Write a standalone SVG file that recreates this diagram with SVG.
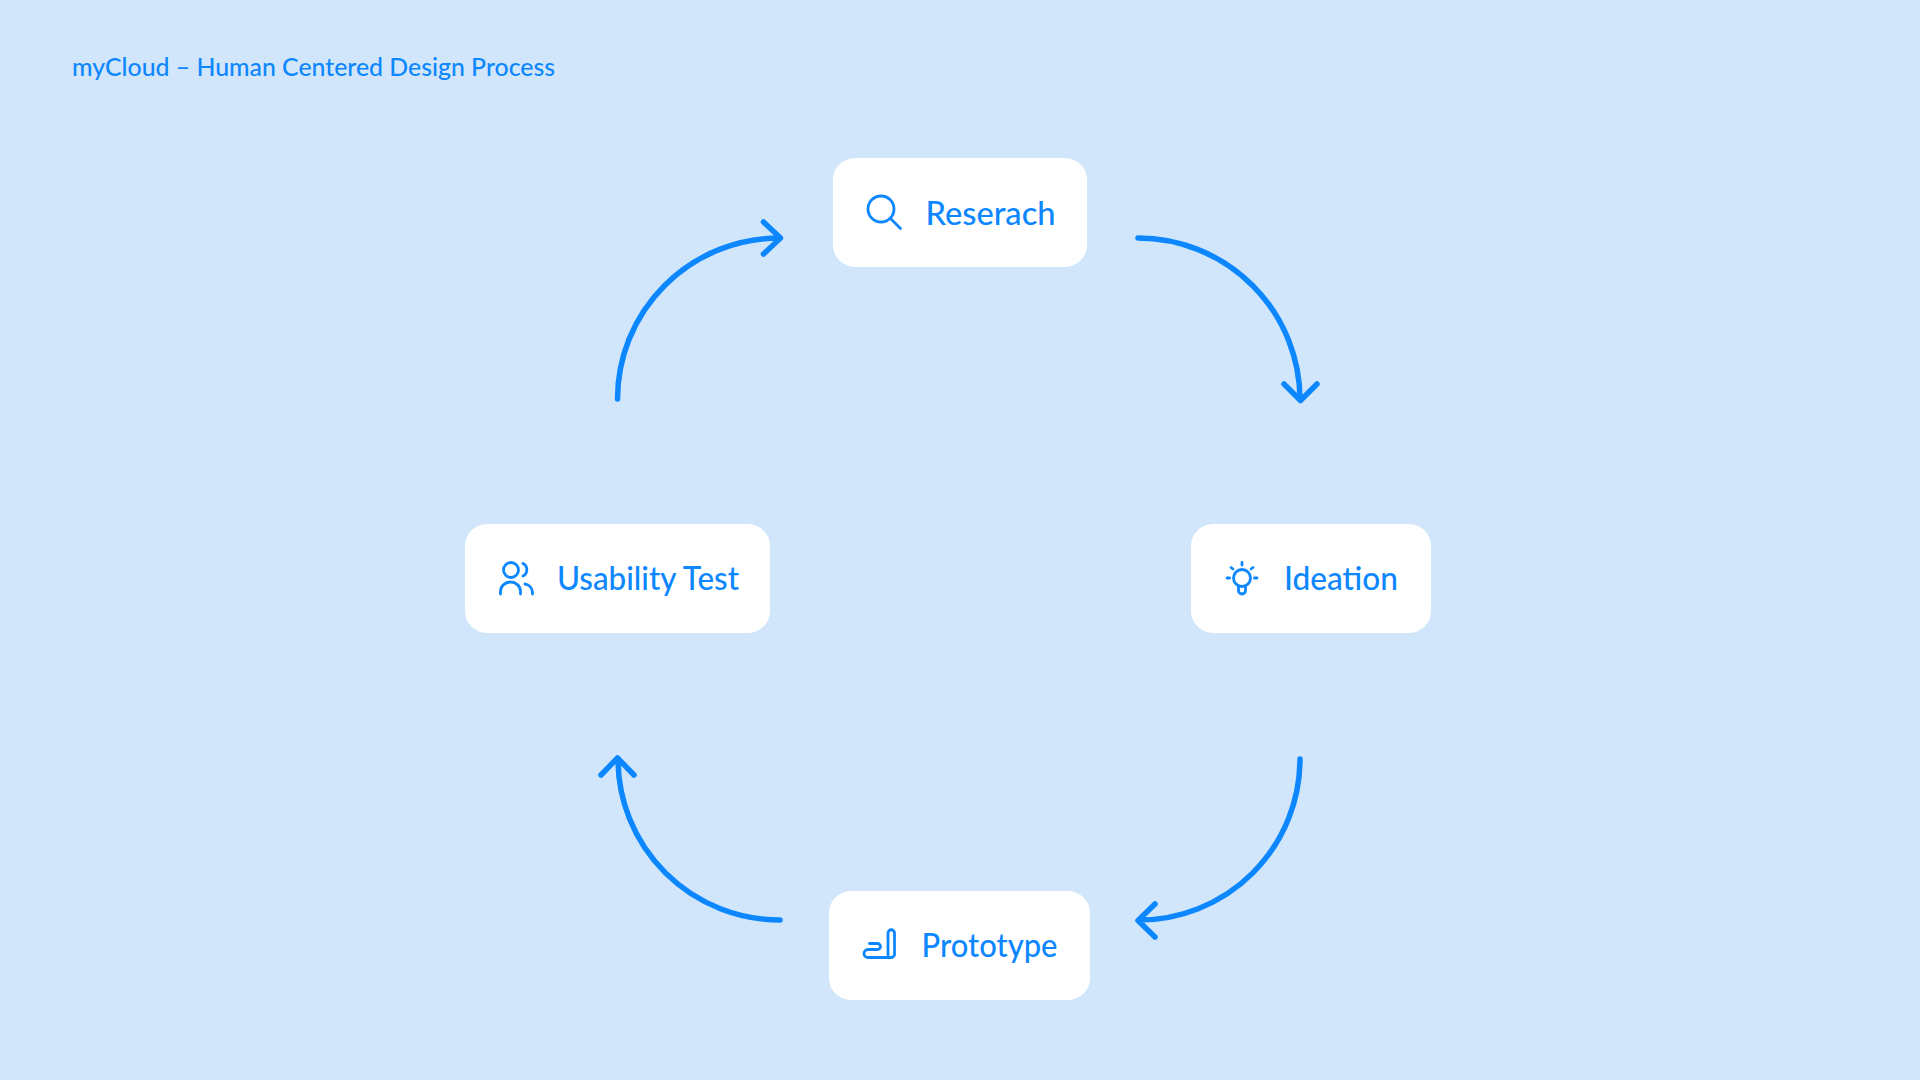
<svg xmlns="http://www.w3.org/2000/svg" width="1920" height="1080" viewBox="0 0 1920 1080">
<style>
.box{fill:#fff}
.t{font-family:"Lato","Noto Sans",sans-serif;fill:#0d87ff;font-size:32px;font-weight:500}
.i{fill:none;stroke:#0d87ff;stroke-width:2.8;stroke-linecap:round;stroke-linejoin:round}
.c{fill:none;stroke:#0d87ff;stroke-width:5.500;stroke-linecap:round;stroke-linejoin:round}
</style>
<rect width="1920" height="1080" fill="#d1e6fa"/>
<text id="title" x="72" y="75.500" class="t" style="font-size:25px" textLength="483" lengthAdjust="spacingAndGlyphs">myCloud – Human Centered Design Process</text>
<g id="connectors">
<path class="c" d="M1138 238A162 162 0 0 1 1300 400M1284 384L1300.500 400.500L1317 384"/>
<path class="c" d="M1300 759A161 161 0 0 1 1139 920M1155 904L1138 920.500L1155 937"/>
<path class="c" d="M780 920A162 161 0 0 1 618 759M601 775L617.500 758L634 775"/>
<path class="c" d="M617.500 399A162 161 0 0 1 780 238M763.500 222L780.500 238L763.500 254"/>
</g>
<g id="research"><rect class="box" x="833" y="158" width="254" height="109" rx="22"/>
<circle class="i" cx="881" cy="209" r="13"/><path class="i" d="M890.500 218.500L900.500 228.500"/>
<text class="t" x="925.500" y="225" textLength="130" lengthAdjust="spacingAndGlyphs">Reserach</text></g>
<g id="ideation"><rect class="box" x="1191" y="524" width="240" height="109" rx="22"/>
<circle class="i" cx="1242" cy="578" r="8.500"/><path class="i" d="M1238.500 586V590.500A3.500 3.500 0 0 0 1245.500 590.500V586M1242 562.500V565M1227 578H1229.500M1254.500 578H1257M1231 567.500L1233 569M1253 567.500L1251 569"/>
<text class="t" x="1284" y="590" textLength="114" lengthAdjust="spacingAndGlyphs">Ideation</text></g>
<g id="prototype"><rect class="box" x="829" y="891" width="261" height="109" rx="22"/>
<path class="i" d="M888 933V955M894.500 955V933A3.250 3.250 0 0 0 888 933M869.500 943.500H877.500A3 3 0 0 1 877.500 949.500H868A4 4 0 0 0 868 957.500H890.500A4 4 0 0 0 894.500 955"/>
<text class="t" x="921.500" y="957" textLength="136" lengthAdjust="spacingAndGlyphs">Prototype</text></g>
<g id="usability"><rect class="box" x="465" y="524" width="305" height="109" rx="22"/>
<circle class="i" cx="511" cy="570" r="7.500"/><path class="i" d="M500.500 594V591A10 9.500 0 0 1 510.500 582A10 9.500 0 0 1 520.500 591V594M523 563.500A7 7 0 0 1 523 576M525 584A9 9 0 0 1 532.500 592.500V594"/>
<text class="t" x="557" y="590" textLength="182" lengthAdjust="spacingAndGlyphs">Usability Test</text></g>
</svg>
